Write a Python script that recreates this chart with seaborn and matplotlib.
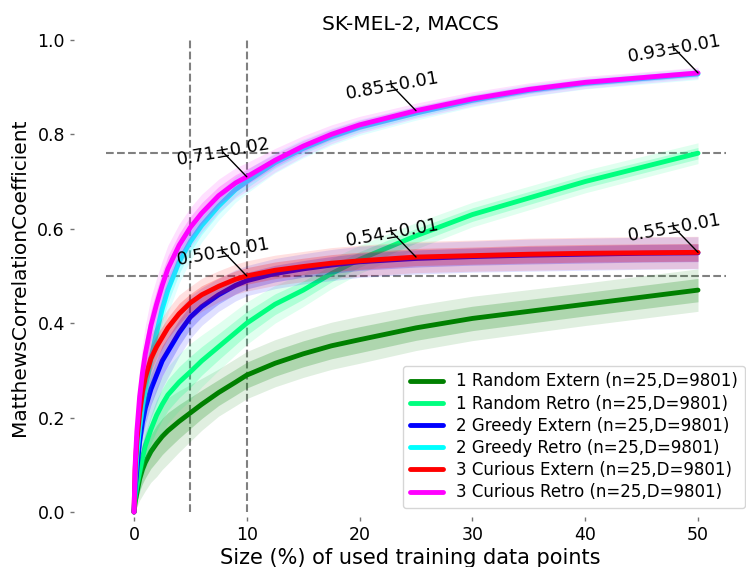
import numpy as np
import matplotlib
matplotlib.use("Agg")
import matplotlib.pyplot as plt
import seaborn as sns

# Learning curves: MCC vs. share of training data used (mean over runs)
size_pct = [0, 0.1, 0.25, 0.5, 0.75, 1, 1.5, 2, 2.5, 3, 4, 5, 6, 7.5, 9, 10,
            12.5, 15, 17.5, 20, 25, 30, 35, 40, 45, 50]

random_extern = [0.0, 0.02, 0.04, 0.07, 0.09, 0.105, 0.128, 0.145, 0.16, 0.172, 0.192, 0.21,
                 0.228, 0.253, 0.275, 0.29, 0.315, 0.335, 0.352, 0.365, 0.39, 0.41, 0.425,
                 0.44, 0.455, 0.47]
random_retro = [0.0, 0.03, 0.055, 0.085, 0.115, 0.14, 0.175, 0.205, 0.228, 0.248, 0.275, 0.297,
                0.32, 0.35, 0.38, 0.40, 0.44, 0.47, 0.505, 0.535, 0.585, 0.63, 0.665, 0.70,
                0.73, 0.76]
greedy_extern = [0.0, 0.05, 0.09, 0.15, 0.19, 0.22, 0.26, 0.29, 0.32, 0.34, 0.38, 0.413,
                 0.435, 0.46, 0.48, 0.49, 0.505, 0.515, 0.523, 0.53, 0.537, 0.541, 0.544,
                 0.546, 0.548, 0.549]
greedy_retro = [0.0, 0.06, 0.12, 0.18, 0.225, 0.26, 0.325, 0.38, 0.43, 0.47, 0.53, 0.573,
                0.607, 0.648, 0.683, 0.70, 0.74, 0.77, 0.795, 0.815, 0.845, 0.872, 0.893,
                0.908, 0.918, 0.928]
curious_extern = [0.0, 0.09, 0.15, 0.21, 0.255, 0.285, 0.325, 0.35, 0.37, 0.39, 0.42, 0.443,
                  0.46, 0.478, 0.493, 0.50, 0.512, 0.52, 0.527, 0.532, 0.54, 0.543, 0.546,
                  0.548, 0.549, 0.55]
curious_retro = [0.0, 0.10, 0.17, 0.245, 0.295, 0.335, 0.395, 0.44, 0.48, 0.515, 0.565, 0.603,
                 0.633, 0.67, 0.697, 0.71, 0.745, 0.775, 0.80, 0.82, 0.85, 0.875, 0.895,
                 0.91, 0.92, 0.93]

# Half-width of the envelope spanned by the individual runs
random_extern_spread = [0.0, 0.015, 0.03, 0.045, 0.055, 0.06, 0.065, 0.07, 0.07, 0.07, 0.065,
                        0.06, 0.055, 0.05, 0.05, 0.05, 0.05, 0.05, 0.05, 0.05, 0.048, 0.047,
                        0.046, 0.045, 0.045, 0.045]
random_retro_spread = [0.0, 0.015, 0.03, 0.045, 0.05, 0.05, 0.055, 0.06, 0.06, 0.06, 0.06,
                       0.06, 0.055, 0.05, 0.047, 0.045, 0.04, 0.035, 0.032, 0.03, 0.028,
                       0.026, 0.025, 0.024, 0.023, 0.022]
greedy_extern_spread = [0.0, 0.02, 0.04, 0.05, 0.055, 0.06, 0.06, 0.06, 0.058, 0.055, 0.05,
                        0.045, 0.04, 0.035, 0.033, 0.032, 0.032, 0.032, 0.033, 0.033, 0.033,
                        0.033, 0.034, 0.034, 0.034, 0.034]
greedy_retro_spread = [0.0, 0.03, 0.05, 0.06, 0.06, 0.06, 0.06, 0.055, 0.052, 0.05, 0.045,
                       0.04, 0.035, 0.03, 0.027, 0.025, 0.022, 0.02, 0.018, 0.017, 0.015,
                       0.014, 0.013, 0.012, 0.012, 0.012]
curious_extern_spread = [0.0, 0.02, 0.04, 0.05, 0.05, 0.05, 0.05, 0.045, 0.042, 0.04, 0.04,
                         0.035, 0.035, 0.033, 0.032, 0.032, 0.032, 0.032, 0.033, 0.033, 0.033,
                         0.033, 0.034, 0.034, 0.034, 0.034]
curious_retro_spread = [0.0, 0.03, 0.05, 0.06, 0.06, 0.06, 0.06, 0.055, 0.052, 0.05, 0.045,
                        0.042, 0.04, 0.035, 0.032, 0.03, 0.025, 0.022, 0.02, 0.018, 0.016,
                        0.015, 0.014, 0.013, 0.012, 0.012]

series_labels = [
    "1 Random Extern (n=25,D=9801)",
    "1 Random Retro (n=25,D=9801)",
    "2 Greedy Extern (n=25,D=9801)",
    "2 Greedy Retro (n=25,D=9801)",
    "3 Curious Extern (n=25,D=9801)",
    "3 Curious Retro (n=25,D=9801)",
]
series_colors = ["green", "springgreen", "blue", "cyan", "red", "magenta"]

# Annotated checkpoints (x position, std over runs)
checkpoints = [10, 25, 50]
curious_retro_sd = [0.02, 0.01, 0.01]
curious_extern_sd = [0.01, 0.01, 0.01]

ref_x = [5, 10]
ref_y = [0.76, 0.50]

sns.set_style("ticks")
plt.rcParams["font.family"] = ["DejaVu Sans"]

W, H = 746, 567
fig = plt.figure(figsize=(W / 100, H / 100), dpi=100)
ax = fig.add_axes([74 / W, (H - 517) / H, (W - 74) / W, (517 - 38) / H])

x = np.asarray(size_pct)
means = [random_extern, random_retro, greedy_extern, greedy_retro, curious_extern, curious_retro]
spreads = [random_extern_spread, random_retro_spread, greedy_extern_spread,
           greedy_retro_spread, curious_extern_spread, curious_retro_spread]

# reference lines
ax.vlines(ref_x, 0, 1, colors="gray", linestyles="dashed", lw=1.5, zorder=1)
ax.hlines(ref_y, -2.5, 52.5, colors="gray", linestyles="dashed", lw=1.5, zorder=1)

for label, color, m, s in zip(series_labels, series_colors, means, spreads):
    m = np.asarray(m)
    s = np.asarray(s)
    ax.fill_between(x, m - s, m + s, color=color, alpha=0.12, lw=0, zorder=2)
    ax.fill_between(x, m - 0.55 * s, m + 0.55 * s, color=color, alpha=0.22, lw=0, zorder=2)
    sns.lineplot(x=x, y=m, color=color, lw=3.5, label=label, ax=ax, zorder=2)

def annotate(series, sds):
    for cx, sd in zip(checkpoints, sds):
        val = series[size_pct.index(cx)]
        ax.annotate(f"{val:.2f}\u00b1{sd:.2f}", xy=(cx, val), xytext=(cx - 2.1, val + 0.052),
                    textcoords="data", ha="center", va="center", rotation=10, fontsize=13,
                    color="black",
                    arrowprops=dict(arrowstyle="-", color="black", lw=1.0,
                                    shrinkA=0, shrinkB=0, patchA=None),
                    zorder=5)

annotate(curious_retro, curious_retro_sd)
annotate(curious_extern, curious_extern_sd)

ax.set_xlim(-5.32, (W - 74) / 11.28 - 5.32)
ax.set_ylim(-0.0106, 1.004)
ax.set_xticks([0, 10, 20, 30, 40, 50])
ax.set_yticks([0.0, 0.2, 0.4, 0.6, 0.8, 1.0])
ax.set_yticklabels(["0.0", "0.2", "0.4", "0.6", "0.8", "1.0"])
ax.tick_params(length=3, width=1, color="0.45", labelsize=12.5, pad=3.5, labelcolor="black")
sns.despine(ax=ax, left=True, bottom=True)

ax.set_title("SK-MEL-2, MACCS", fontsize=14.5, color="black")
ax.set_xlabel("Size (%) of used training data points", fontsize=15, color="black", labelpad=3)
ax.set_ylabel("MatthewsCorrelationCoefficient", fontsize=14.5, color="black", labelpad=6)

leg = ax.legend(loc="lower right", bbox_to_anchor=(745 / W, 1 - 508 / H),
                bbox_transform=fig.transFigure, borderaxespad=0, fontsize=12,
                labelspacing=0.25, handlelength=2.0)
for t in leg.get_texts():
    t.set_color("black")

fig.savefig("out.png", dpi=100)
